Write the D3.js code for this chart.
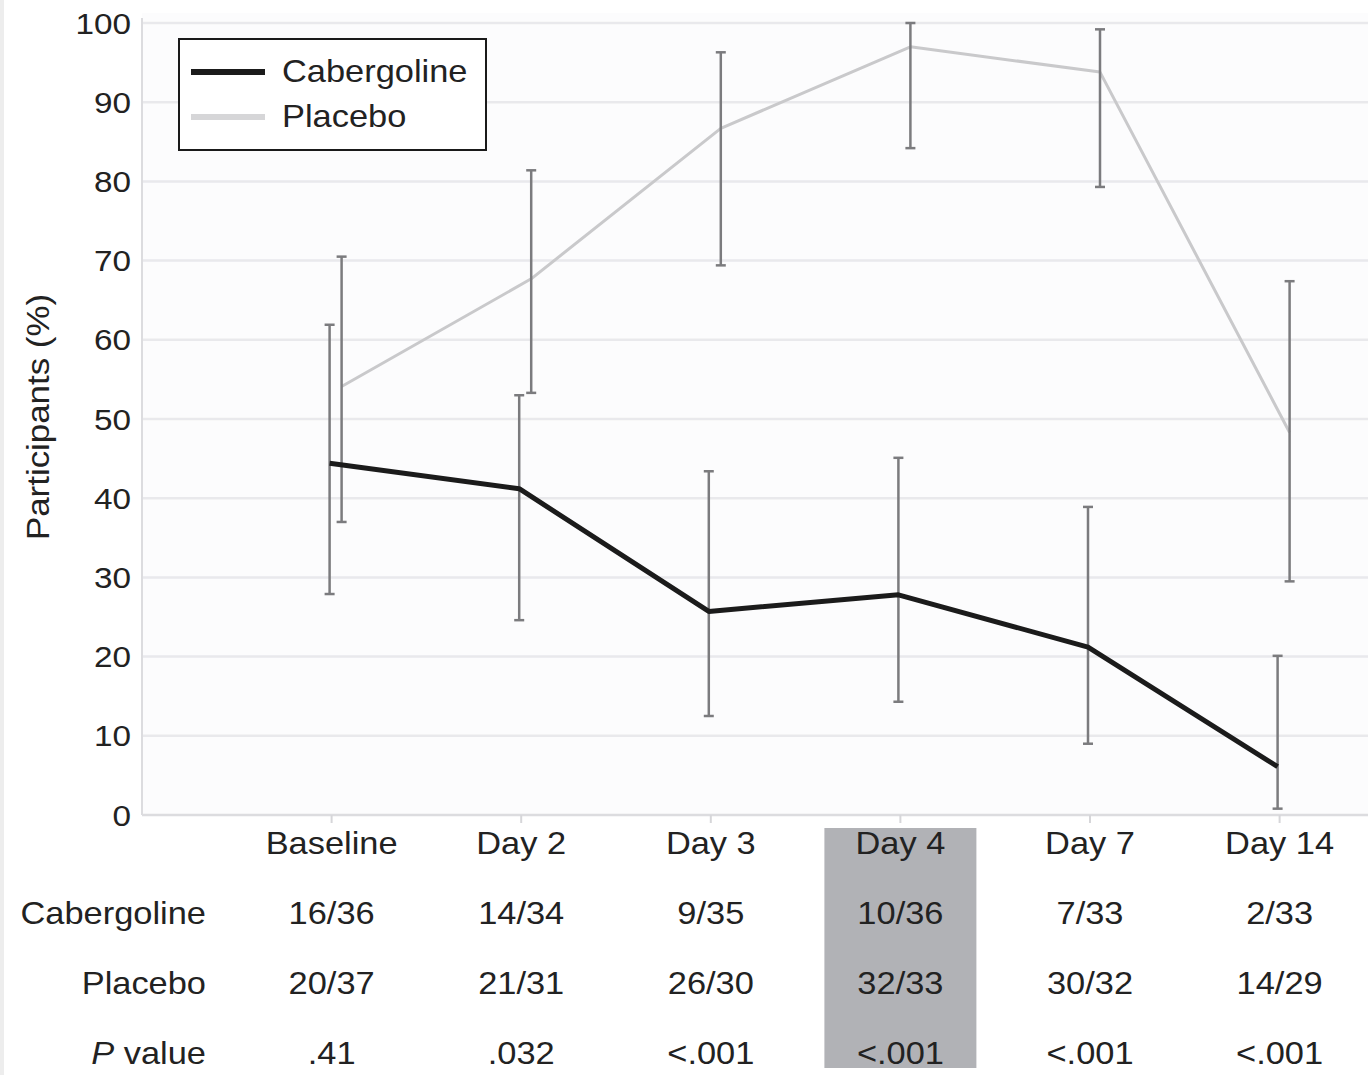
<!DOCTYPE html>
<html>
<head>
<meta charset="utf-8">
<script src="https://cdn.jsdelivr.net/npm/d3@7"></script>
<style>
  html, body { margin: 0; padding: 0; background: #ffffff; }
  svg { display: block; font-family: "Liberation Sans", Arial, sans-serif; }
</style>
</head>
<body>
<svg id="chart" width="1368" height="1075"></svg>
<script>
// ---- data ----
const categories = ["Baseline", "Day 2", "Day 3", "Day 4", "Day 7", "Day 14"];
const cabergolineValues = [44.4, 41.2, 25.7, 27.8, 21.2, 6.1];
const cabergolineLower  = [27.9, 24.6, 12.5, 14.3, 9.0, 0.8];
const cabergolineUpper  = [61.9, 53.0, 43.4, 45.1, 38.9, 20.1];
const placeboValues = [54.1, 67.7, 86.7, 97.0, 93.8, 48.3];
const placeboLower  = [37.0, 53.3, 69.4, 84.2, 79.3, 29.5];
const placeboUpper  = [70.5, 81.4, 96.3, 100.0, 99.2, 67.4];
const yTicks = [0, 10, 20, 30, 40, 50, 60, 70, 80, 90, 100];
const tableRowLabels = ["Cabergoline", "Placebo", "value"];
const cabergolineCounts = ["16/36", "14/34", "9/35", "10/36", "7/33", "2/33"];
const placeboCounts = ["20/37", "21/31", "26/30", "32/33", "30/32", "14/29"];
const pValues = [".41", ".032", "<.001", "<.001", "<.001", "<.001"];
const highlightCategory = "Day 4";
const legendLabels = ["Cabergoline", "Placebo"];

// ---- layout ----
const svg = d3.select("#chart");
const plotLeft = 142, plotRight = 1368, plotTop = 23, plotBottom = 815;
const step = 189.6;
const x = d3.scaleLinear().domain([0, 1]).range([plotLeft + step, plotLeft + 2 * step]);
const xCat = i => x(i);
const y = d3.scaleLinear().domain([0, 100]).range([plotBottom, plotTop]);
const placeboOffset = 10;

const fontSize = 31;
const sx = 1.11;
const textColor = "#222";

function label(parent, tx, ty, anchor, size) {
  return parent.append("text")
    .attr("transform", `translate(${tx},${ty}) scale(${sx},1)`)
    .attr("dy", "0.35em").attr("text-anchor", anchor)
    .attr("font-size", size).attr("fill", textColor);
}

// left gray strip
svg.append("rect").attr("x", 0).attr("y", 0).attr("width", 4).attr("height", 1075).attr("fill", "#ededed");

// plot background
svg.append("rect").attr("x", plotLeft).attr("y", plotTop - 10).attr("width", plotRight - plotLeft).attr("height", plotBottom - plotTop + 10).attr("fill", "#fcfcfd");

// gridlines
svg.append("g").selectAll("line").data(yTicks.filter(d => d > 0)).join("line")
  .attr("x1", plotLeft).attr("x2", plotRight)
  .attr("y1", d => y(d)).attr("y2", d => y(d))
  .attr("stroke", "#e9e9ec").attr("stroke-width", 2.5);

// y axis line
svg.append("line").attr("x1", plotLeft).attr("x2", plotLeft).attr("y1", plotTop - 5).attr("y2", plotBottom)
  .attr("stroke", "#dcdcdf").attr("stroke-width", 2);
// x axis line
svg.append("line").attr("x1", plotLeft).attr("x2", plotRight).attr("y1", plotBottom).attr("y2", plotBottom)
  .attr("stroke", "#dcdcdf").attr("stroke-width", 2.5);

// x tick marks
svg.append("g").selectAll("line").data(categories).join("line")
  .attr("x1", (d, i) => xCat(i)).attr("x2", (d, i) => xCat(i))
  .attr("y1", plotBottom).attr("y2", plotBottom + 8)
  .attr("stroke", "#d6d6d9").attr("stroke-width", 2);

// y tick labels
const yg = svg.append("g");
yTicks.forEach(d => label(yg, 131, y(d), "end", 30).text(d));

// y axis title
svg.append("text")
  .attr("transform", `translate(38, ${y(50) - 2}) rotate(-90) scale(1.09,1)`)
  .attr("dy", "0.35em")
  .attr("text-anchor", "middle")
  .attr("font-size", 32).attr("fill", textColor)
  .text("Participants (%)");

// highlight rect for Day 4
const hi = categories.indexOf(highlightCategory);
svg.append("rect")
  .attr("x", xCat(hi) - 76).attr("y", 828)
  .attr("width", 152).attr("height", 240)
  .attr("fill", "#b1b2b6");

// error bars
function errorBars(lower, upper, offset) {
  const g = svg.append("g").attr("stroke", "#7b7b7e").attr("stroke-width", 2.5).attr("fill", "none");
  categories.forEach((c, i) => {
    const cx = xCat(i) + offset;
    g.append("line").attr("x1", cx).attr("x2", cx).attr("y1", y(upper[i])).attr("y2", y(lower[i]));
    g.append("line").attr("x1", cx - 5).attr("x2", cx + 5).attr("y1", y(upper[i])).attr("y2", y(upper[i]));
    g.append("line").attr("x1", cx - 5).attr("x2", cx + 5).attr("y1", y(lower[i])).attr("y2", y(lower[i]));
  });
}

// placebo line
const line = offset => d3.line().x((d, i) => xCat(i) + offset).y(d => y(d));
svg.append("path").datum(placeboValues)
  .attr("d", line(placeboOffset))
  .attr("fill", "none").attr("stroke", "#c9c9cb").attr("stroke-width", 3)
  .attr("stroke-linejoin", "round");

errorBars(placeboLower, placeboUpper, placeboOffset);
errorBars(cabergolineLower, cabergolineUpper, -2);

// cabergoline line
svg.append("path").datum(cabergolineValues)
  .attr("d", line(-2))
  .attr("fill", "none").attr("stroke", "#1b1b1b").attr("stroke-width", 5)
  .attr("stroke-linejoin", "round");

// legend
const lg = svg.append("g");
lg.append("rect").attr("x", 179).attr("y", 39).attr("width", 307).attr("height", 111)
  .attr("fill", "#ffffff").attr("stroke", "#1a1a1a").attr("stroke-width", 2);
const legendColors = ["#1b1b1b", "#d6d6d8"];
legendLabels.forEach((lab, i) => {
  const ly = 71 + i * 45;
  lg.append("line").attr("x1", 191).attr("x2", 265).attr("y1", ly + 1).attr("y2", ly + 1)
    .attr("stroke", legendColors[i]).attr("stroke-width", 6);
  label(lg, 282, ly, "start", fontSize).text(lab);
});

// category labels
const cg = svg.append("g");
categories.forEach((d, i) => label(cg, xCat(i), 843, "middle", fontSize).text(d));

// table
const rows = [cabergolineCounts, placeboCounts, pValues];
const rowY = [913, 983, 1053];
rows.forEach((vals, r) => {
  const g = svg.append("g");
  vals.forEach((d, i) => label(g, xCat(i), rowY[r], "middle", fontSize).text(d));
  const t = label(g, 206, rowY[r], "end", fontSize);
  if (r === 2) {
    t.append("tspan").attr("font-style", "italic").text("P");
    t.append("tspan").text(" " + tableRowLabels[r]);
  } else {
    t.text(tableRowLabels[r]);
  }
});
</script>
</body>
</html>
